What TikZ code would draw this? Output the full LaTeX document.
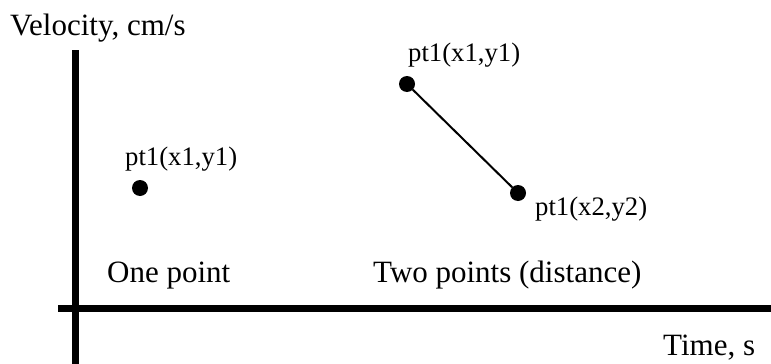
\documentclass[tikz,border=0pt]{standalone}
\usepackage{fontspec}
\setmainfont{Liberation Serif}
\usepackage{tikz}
\usetikzlibrary{positioning}

\begin{document}
\begin{tikzpicture}[
    x=1pt, y=-1pt,
    axis/.style={line width=7pt},
    dot/.style={circle, fill=black, inner sep=0pt, minimum size=16pt},
    txt/.style={anchor=base west, inner sep=0pt, font=\fontsize{31}{36}\selectfont},
    ptlabel/.style={anchor=base west, inner sep=0pt, font=\fontsize{26.7}{31}\selectfont},
    seg/.style={line width=2pt}
]
    \useasboundingbox (0,0) rectangle (771,364);

    % Axes
    \coordinate (ytop) at (75,50);
    \coordinate (ybot) at (75,364);
    \coordinate (xleft) at (58,308);
    \coordinate (xright) at (771,308);
    \draw[axis] (ytop) -- (ybot);
    \draw[axis] (xleft) -- (xright);

    % Axis titles
    \node[txt] (ytitle) at (10,35) {Velocity, cm/s};
    \node[txt] (xtitle) at (663,355) {Time, s};

    % One point
    \node[dot] (pa) at (140,188) {};
    \node[ptlabel] (la) at (125,165) {pt1(x1,y1)};
    \node[txt] (onept) at (107,282) {One point};

    % Two points
    \node[dot] (pb) at (407,84) {};
    \node[dot] (pc) at (518,193) {};
    \node[ptlabel] (lb) at (408,61) {pt1(x1,y1)};
    \node[ptlabel] (lc) at (535,215) {pt1(x2,y2)};
    \node[txt] (twopt) at (373,282) {Two points (distance)};
    \draw[seg] (pb) -- (pc);
\end{tikzpicture}
\end{document}
